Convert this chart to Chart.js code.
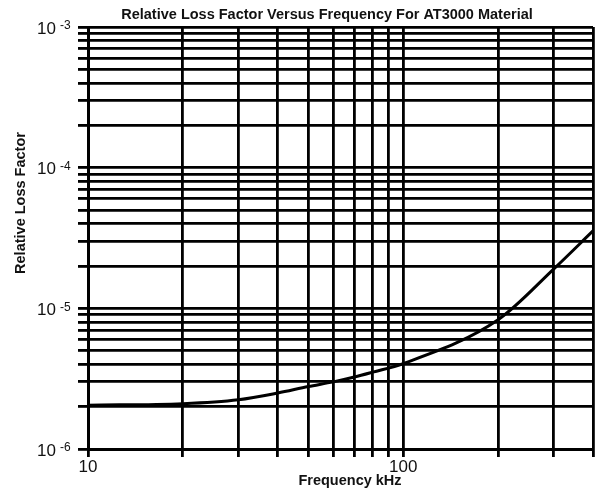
<!DOCTYPE html>
<html>
<head>
<meta charset="utf-8">
<script src="https://cdn.jsdelivr.net/npm/chart.js@4.4.1/dist/chart.umd.min.js"></script>
<style>
  body { margin: 0; background: #fff; }
  #wrap { width: 597px; height: 494px; }
</style>
</head>
<body>
<div id="wrap"><canvas id="chart"></canvas></div>
<script>
const freqKHz = [10, 20, 30, 40, 50, 60, 70, 80, 100, 200, 300, 400];
const lossFactor = [2.05e-6, 2.1e-6, 2.24e-6, 2.5e-6, 2.78e-6, 3.0e-6, 3.25e-6, 3.52e-6, 4.05e-6, 8.3e-6, 1.9e-5, 3.55e-5];

const xGridValues = [10, 20, 30, 40, 50, 60, 70, 80, 90, 100, 200, 300, 400];
const xTickLabels = { 10: '10', 100: '100' };
const yGridValues = [1e-6, 2e-6, 3e-6, 4e-6, 5e-6, 6e-6, 7e-6, 8e-6, 9e-6,
                     1e-5, 2e-5, 3e-5, 4e-5, 5e-5, 6e-5, 7e-5, 8e-5, 9e-5,
                     1e-4, 2e-4, 3e-4, 4e-4, 5e-4, 6e-4, 7e-4, 8e-4, 9e-4, 1e-3];
const yDecades = [1e-6, 1e-5, 1e-4, 1e-3];
const yExponents = ['-6', '-5', '-4', '-3'];

const chartTitle = 'Relative Loss Factor Versus Frequency For AT3000 Material';
const xTitle = 'Frequency kHz';
const yTitle = 'Relative Loss Factor';

const FONT = '"Liberation Sans", Arial, sans-serif';

// titles and 10^n labels drawn by hand so the exponent can sit raised
const textPlugin = {
    id: 'texts',
    afterDraw(chart) {
        const ctx = chart.ctx;
        const y = chart.scales.y;
        ctx.save();
        ctx.fillStyle = '#111';

        ctx.font = 'bold 14.5px ' + FONT;
        ctx.textAlign = 'center';
        ctx.textBaseline = 'middle';
        ctx.fillText(chartTitle, 327, 15);
        ctx.fillText(xTitle, 350, 481);

        ctx.save();
        ctx.translate(21, 203);
        ctx.rotate(-Math.PI / 2);
        ctx.fillText(yTitle, 0, 0);
        ctx.restore();

        yDecades.forEach((v, i) => {
            const py = y.getPixelForValue(v);
            ctx.font = '17px ' + FONT;
            ctx.textAlign = 'right';
            ctx.textBaseline = 'middle';
            ctx.fillText('10', 56, py + 2);
            ctx.font = '12px ' + FONT;
            ctx.textAlign = 'left';
            ctx.fillText(yExponents[i], 60, py - 1);
        });
        ctx.restore();
    }
};

new Chart(document.getElementById('chart'), {
    type: 'line',
    data: {
        datasets: [{
            data: freqKHz.map((f, i) => ({ x: f, y: lossFactor[i] })),
            borderColor: '#000',
            borderWidth: 3,
            pointRadius: 0,
            cubicInterpolationMode: 'monotone',
            fill: false
        }]
    },
    options: {
        responsive: true,
        maintainAspectRatio: false,
        animation: false,
        layout: { padding: { top: 27, right: 4, bottom: 0, left: 0 } },
        plugins: {
            legend: { display: false },
            title: { display: false },
            tooltip: { enabled: false }
        },
        scales: {
            x: {
                type: 'logarithmic',
                min: 10,
                max: 400,
                afterBuildTicks: s => { s.ticks = xGridValues.map(v => ({ value: v })); },
                afterFit: s => { s.height = 45; },
                grid: { color: '#000', lineWidth: 2.8, tickLength: 8 },
                border: { color: '#000', width: 3 },
                ticks: {
                    autoSkip: false,
                    maxRotation: 0,
                    padding: 0,
                    color: '#111',
                    font: { family: FONT, size: 17 },
                    callback: v => xTickLabels[v] || ''
                }
            },
            y: {
                type: 'logarithmic',
                min: 1e-6,
                max: 1e-3,
                afterBuildTicks: s => { s.ticks = yGridValues.map(v => ({ value: v })); },
                afterFit: s => { s.width = 88; },
                grid: { color: '#000', lineWidth: 2.8, tickLength: 10 },
                border: { color: '#000', width: 3 },
                ticks: { display: false }
            }
        }
    },
    plugins: [textPlugin]
});
</script>
</body>
</html>
